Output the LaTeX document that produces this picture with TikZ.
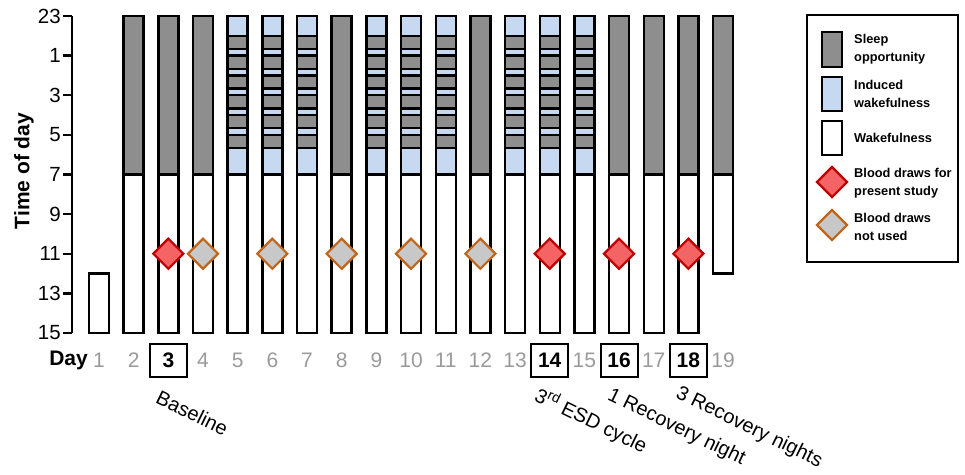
\documentclass[tikz,border=0pt]{standalone}
\usepackage{fontspec}
\setmainfont{Liberation Sans}
\usetikzlibrary{shapes.geometric}
\definecolor{sleepc}{HTML}{8E8E8E}
\definecolor{wakec}{HTML}{C6D9F1}
\definecolor{redf}{HTML}{F46464}
\definecolor{redb}{HTML}{C00000}
\definecolor{grayf}{HTML}{C8C8C8}
\definecolor{grayb}{HTML}{C0651A}
\definecolor{daygray}{HTML}{9A9A9A}
\begin{document}
\begin{tikzpicture}[x=1pt,y=-1pt,
  barline/.style={draw=black, line width=2.4pt},
  sleepbox/.style={barline, fill=sleepc},
  wakebox/.style={barline, fill=wakec},
  whitebox/.style={barline, fill=white},
  reddia/.style={shape=diamond, draw=redb, fill=redf, line width=2.2pt, minimum width=31pt, minimum height=31pt, inner sep=0pt},
  graydia/.style={shape=diamond, draw=grayb, fill=grayf, line width=2.2pt, minimum width=31pt, minimum height=31pt, inner sep=0pt},
  ticklab/.style={anchor=east, font=\fontsize{20.5}{22}\selectfont, inner sep=0pt},
  daynum/.style={font=\fontsize{21}{23}\selectfont, text=daygray, inner sep=0pt},
  daybox/.style={font=\bfseries\fontsize{21}{23}\selectfont, text=black, draw=black, line width=2pt, minimum width=37pt, minimum height=33pt, inner sep=0pt},
  rotlab/.style={rotate=-26, anchor=north west, inner sep=0pt, font=\fontsize{20}{22}\selectfont},
  legtext/.style={anchor=west, align=left, font=\bfseries\fontsize{12.8}{17.5}\selectfont, inner sep=0pt}
]
\useasboundingbox (0,0) rectangle (965,474);
\def\yo{16}\def\ys{19.81}\def\hw{10}
% axis
\draw[line width=2.4pt] (72,16) -- (72,333);
\foreach \lab [count=\i from 0] in {23,1,3,5,7,9,11,13,15}{
  \pgfmathsetmacro{\yy}{\yo+2*\i*\ys}
  \draw[line width=2.4pt] (63,\yy) -- (72,\yy);
  \node[ticklab] (t\i) at (61,\yy) {\lab};
}
\node[rotate=90, font=\bfseries\fontsize{21}{23}\selectfont, inner sep=0pt] (ylab) at (24,171) {Time of day};
% bars
\foreach \d/\kind in {2/s,3/s,4/s,5/i,6/i,7/i,8/s,9/i,10/i,11/i,12/s,13/i,14/i,15/i,16/s,17/s,18/s}{
  \pgfmathsetmacro{\cx}{99+34.67*(\d-1)}
  \pgfmathsetmacro{\ya}{\yo}
  \pgfmathsetmacro{\yb}{\yo+8*\ys}
  \pgfmathsetmacro{\yc}{\yo+16*\ys}
  \draw[whitebox] (\cx-\hw,\yb) rectangle (\cx+\hw,\yc);
  \if s\kind
    \draw[sleepbox] (\cx-\hw,\ya) rectangle (\cx+\hw,\yb);
  \else
    \draw[wakebox] (\cx-\hw,\ya) rectangle (\cx+\hw,\yb);
    \foreach \k in {0,...,5}{
      \pgfmathsetmacro{\ga}{\yo+(1+\k)*\ys}
      \pgfmathsetmacro{\gb}{\yo+(1.667+\k)*\ys}
      \draw[sleepbox] (\cx-\hw,\ga) rectangle (\cx+\hw,\gb);
    }
  \fi
}
% day 1
\draw[whitebox] (99-\hw,\yo+13*\ys) rectangle (99+\hw,\yo+16*\ys);
% day 19
\pgfmathsetmacro{\cxn}{99+34.67*18}
\draw[sleepbox] (\cxn-\hw,\yo) rectangle (\cxn+\hw,\yo+8*\ys);
\draw[whitebox] (\cxn-\hw,\yo+8*\ys) rectangle (\cxn+\hw,\yo+13*\ys);
% diamonds
\pgfmathsetmacro{\yd}{\yo+12*\ys}
\foreach \d in {3,14,16,18}{
  \node[reddia] (r\d) at ({99+34.67*(\d-1)},\yd) {};
}
\foreach \d in {4,6,8,10,12}{
  \node[graydia] (g\d) at ({99+34.67*(\d-1)},\yd) {};
}
% day labels
\node[anchor=east, font=\bfseries\fontsize{21}{23}\selectfont, inner sep=0pt] (daylab) at (88,360) {Day};
\foreach \d in {1,2,4,5,6,7,8,9,10,11,12,13,15,17,19}{
  \node[daynum] (n\d) at ({99+34.67*(\d-1)},360) {\d};
}
\foreach \d in {3,14,16,18}{
  \node[daybox] (n\d) at ({99+34.67*(\d-1)},360.5) {\d};
}
% rotated labels
\node[rotlab] (lbase) at (161,389) {Baseline};
\node[rotlab] (lesd) at (541,384) {3\textsuperscript{rd} ESD cycle};
\node[rotlab] (lrec1) at (613,386) {1 Recovery night};
\node[rotlab] (lrec3) at (681,384) {3 Recovery nights};
% legend
\draw[line width=2pt] (807,15) rectangle (958,262);
\draw[sleepbox] (822,32) rectangle (842,67);
\draw[wakebox] (822,77) rectangle (842,111);
\draw[whitebox] (822,121) rectangle (842,155);
\node[reddia] (lr) at (832,182) {};
\node[graydia] (lg) at (832,225) {};
\node[legtext] (l1) at (854,49) {Sleep\\opportunity};
\node[legtext] (l2) at (854,94) {Induced\\wakefulness};
\node[legtext] (l3) at (854,138) {Wakefulness};
\node[legtext] (l4) at (854,183) {Blood draws for\\present study};
\node[legtext] (l5) at (854,227) {Blood draws\\not used};
\end{tikzpicture}
\end{document}
